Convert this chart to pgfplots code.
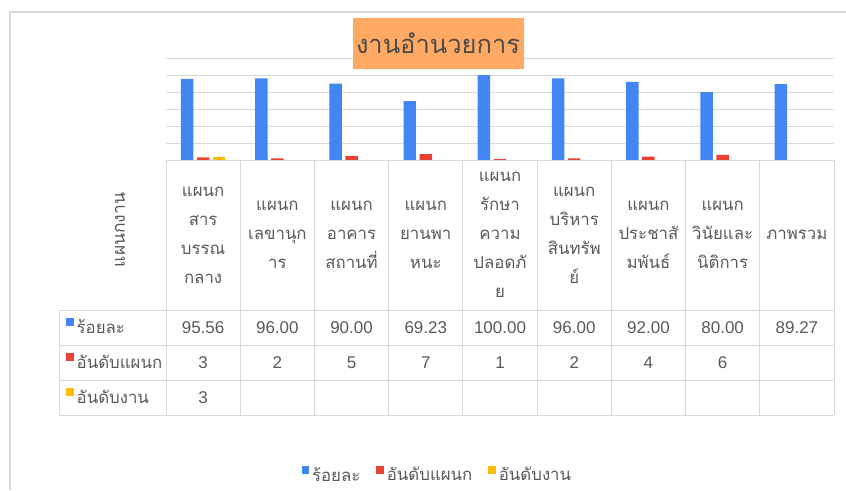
\documentclass[border=0pt]{standalone}
\usepackage{pgfplots}
\pgfplotsset{compat=1.18}
\usepackage{fontspec}
\setmainfont{Liberation Sans}
\newfontfamily\thai[Script=Thai]{Loma}
\definecolor{cblue}{HTML}{4285F4}
\definecolor{cred}{HTML}{EA4335}
\definecolor{cyel}{HTML}{FBBC04}
\definecolor{gridc}{HTML}{D9D9D9}
\definecolor{txt}{HTML}{595959}
\definecolor{titlebg}{HTML}{FFA962}
\begin{document}
\begin{tikzpicture}
\begin{scope}[x=1pt,y=-1pt]
\path[use as bounding box] (0,0) rectangle (846,490);
\draw[gridc, line width=1.5pt] (10,490) -- (10,12) -- (846,12);
\end{scope}
\begin{axis}[at={(166pt,-160pt)}, anchor=south west, scale only axis,
  width=668pt, height=102pt, xmin=-0.5, xmax=8.5, ymin=0, ymax=120,
  axis line style={draw=none}, xtick=\empty, ytick={0,20,...,120}, yticklabels={},
  major tick length=0pt, ymajorgrids, grid style={gridc, line width=1pt},
  ybar, bar width=0.168, clip=false,
  legend style={at={(0.407,-3.088)}, anchor=center, draw=none, fill=none,
    legend columns=3, font=\thai\fontsize{16.8}{18}\selectfont, text=txt,
    nodes={inner xsep=3pt},
    /tikz/every even column/.append style={column sep=13pt}},
  legend image code/.code={\fill[#1] (0pt,1pt) rectangle (7.5pt,8.5pt);}]
\addplot[fill=cblue, draw=none, bar shift=-0.216] coordinates {(0,95.56) (1,96.00) (2,90.00) (3,69.23) (4,100.00) (5,96.00) (6,92.00) (7,80.00) (8,89.27)};
\addplot[fill=cred, draw=none, bar shift=0] coordinates {(0,3) (1,2) (2,5) (3,7) (4,1) (5,2) (6,4) (7,6)};
\addplot[fill=cyel, draw=none, bar shift=0.216] coordinates {(0,3)};
\legend{ร้อยละ, อันดับแผนก, อันดับงาน}
\end{axis}
\begin{scope}[x=1pt,y=-1pt]
% title
\node[fill=titlebg, minimum width=171pt, minimum height=51pt, inner sep=0pt, text=txt!85!black] at (438,43) {\thai\fontsize{25.5}{28}\selectfont งานอำนวยการ};
% table grid
\draw[gridc, line width=1pt] (166,160) -- (834,160);
\foreach \yy in {310,345,380,415} \draw[gridc, line width=1pt] (59,\yy) -- (834,\yy);
\draw[gridc, line width=1pt] (59,310) -- (59,415);
\foreach \k in {0,...,9} \draw[gridc, line width=1pt] ({166+74.222*\k},160) -- ({166+74.222*\k},415);
% rotated header
\node[rotate=90, text=txt, font=\thai\fontsize{17.5}{18}\selectfont] at (120,230) {แผนกงาน};
% column headers
\foreach \k/\lab in {0/{แผนก\\สาร\\บรรณ\\กลาง}, 1/{แผนก\\เลขานุก\\าร}, 2/{แผนก\\อาคาร\\สถานที่}, 3/{แผนก\\ยานพา\\หนะ}, 4/{แผนก\\รักษา\\ความ\\ปลอดภั\\ย}, 5/{แผนก\\บริหาร\\สินทรัพ\\ย์}, 6/{แผนก\\ประชาสั\\มพันธ์}, 7/{แผนก\\วินัยและ\\นิติการ}, 8/{ภาพรวม}}
  \node[align=center, text=txt, font=\thai\fontsize{16.8}{29}\selectfont, anchor=center] at ({166+74.222*(\k+0.5)},235) {\lab};
% row labels
\fill[cblue] (66,318) rectangle (73.5,325.5);
\fill[cred] (66,353) rectangle (73.5,360.5);
\fill[cyel] (66,388) rectangle (73.5,395.5);
\node[anchor=base west, text=txt, font=\thai\fontsize{16.8}{18}\selectfont, inner sep=0pt] at (76.5,333) {ร้อยละ};
\node[anchor=base west, text=txt, font=\thai\fontsize{16.8}{18}\selectfont, inner sep=0pt] at (76.5,368) {อันดับแผนก};
\node[anchor=base west, text=txt, font=\thai\fontsize{16.8}{18}\selectfont, inner sep=0pt] at (76.5,403) {อันดับงาน};
% values
\foreach \k/\v in {0/95.56, 1/96.00, 2/90.00, 3/69.23, 4/100.00, 5/96.00, 6/92.00, 7/80.00, 8/89.27}
  \node[anchor=base, text=txt, font=\fontsize{17}{18}\selectfont, inner sep=0pt] at ({166+74.222*(\k+0.5)},333) {\v};
\foreach \k/\v in {0/3, 1/2, 2/5, 3/7, 4/1, 5/2, 6/4, 7/6}
  \node[anchor=base, text=txt, font=\fontsize{17}{18}\selectfont, inner sep=0pt] at ({166+74.222*(\k+0.5)},368) {\v};
\node[anchor=base, text=txt, font=\fontsize{17}{18}\selectfont, inner sep=0pt] at ({166+74.222*0.5},403) {3};
\end{scope}
\end{tikzpicture}
\end{document}
